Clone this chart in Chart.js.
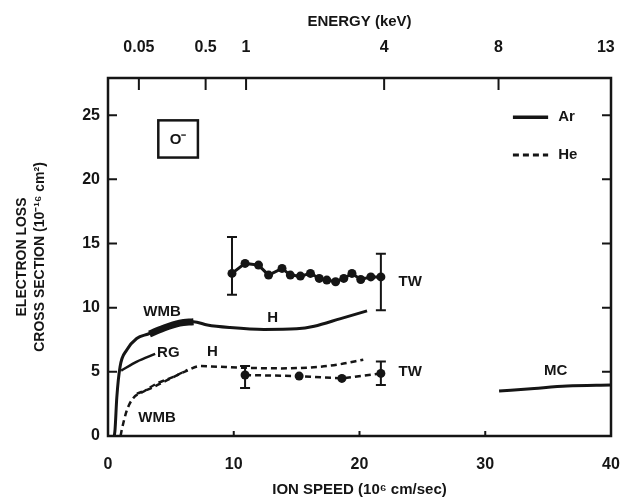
<!DOCTYPE html>
<html>
<head>
<meta charset="utf-8">
<script src="https://cdn.jsdelivr.net/npm/chart.js@4/dist/chart.umd.min.js"></script>
<style>
  html, body { margin: 0; padding: 0; background: #fff; }
  #wrap { width: 624px; height: 503px; }
</style>
</head>
<body>
<div id="wrap"><canvas id="lossChart" width="624" height="503"></canvas></div>
<script>
// ion speed in 10^6 cm/sec, cross section in 10^-16 cm^2
const arH_x = [0.5, 0.56, 0.7, 0.96, 1.49, 2.28, 3.2, 4.4, 5.7, 6.8, 7.9, 9.7, 12.4, 15.0, 16.4, 18.5, 20.6];
const arH_y = [0.0, 0.5, 3.0, 5.4, 6.7, 7.6, 7.95, 8.4, 8.8, 8.9, 8.65, 8.45, 8.3, 8.35, 8.55, 9.15, 9.75];

const arWMB_x = [3.3, 4.4, 5.7, 6.8];
const arWMB_y = [7.95, 8.4, 8.8, 8.9];

const rg_x = [1.05, 2.3, 3.75];
const rg_y = [5.1, 5.8, 6.4];

const heWMB_x = [1.0, 1.1, 1.5, 2.0, 2.8, 3.9, 5.2, 6.3];
const heWMB_y = [0.0, 0.5, 2.0, 2.95, 3.45, 4.1, 4.6, 5.15];

const heH_x = [2.3, 3.35, 4.7, 6.3, 7.3, 8.7, 10.5, 13.7, 16.9, 18.5, 20.3];
const heH_y = [3.3, 3.7, 4.35, 5.1, 5.45, 5.4, 5.33, 5.27, 5.4, 5.6, 5.95];

const mc_x = [31.1, 33.9, 36.5, 40.0];
const mc_y = [3.5, 3.71, 3.89, 3.97];

const arTW_x = [9.86, 10.9, 11.97, 12.77, 13.84, 14.5, 15.3, 16.1, 16.8, 17.4, 18.1, 18.75, 19.4, 20.1, 20.9, 21.7];
const arTW_y = [12.67, 13.45, 13.32, 12.54, 13.06, 12.54, 12.46, 12.67, 12.28, 12.15, 12.02, 12.28, 12.67, 12.2, 12.4, 12.4];
const arErr_x = [9.86, 21.7];
const arErr_lo = [11.0, 9.8];
const arErr_hi = [15.5, 14.2];

const heTW_x = [10.9, 15.2, 18.6, 21.7];
const heTW_y = [4.75, 4.67, 4.49, 4.88];
const heErr_x = [10.9, 21.7];
const heErr_lo = [3.75, 3.97];
const heErr_hi = [5.45, 5.8];

// top axis: energy of O- ions
const energyLabels = ['0.05', '0.5', '1', '4', '8', '13'];
const speedForKeV = e => 10.98 * Math.sqrt(e);

const INK = '#151515';
const FONT = '"Liberation Sans", Arial, sans-serif';

function pts(xs, ys) {
  return xs.map((x, i) => ({ x: x, y: ys[i] }));
}

function curve(label, xs, ys, width, dash) {
  return {
    label: label,
    data: pts(xs, ys),
    showLine: true,
    borderColor: INK,
    borderWidth: width,
    borderDash: dash || [],
    pointRadius: 0,
    cubicInterpolationMode: 'monotone',
    fill: false
  };
}

// keep the plot box where the scan has it, labels may overhang
function noPad(s) {
  s.paddingLeft = 0;
  s.paddingRight = 0;
}

const framePlugin = {
  id: 'frame',
  afterDatasetsDraw(chart) {
    const ctx = chart.ctx;
    const a = chart.chartArea;
    const x = chart.scales.x, y = chart.scales.y;
    ctx.save();
    ctx.strokeStyle = INK;
    ctx.fillStyle = INK;

    // error bars
    ctx.lineWidth = 2;
    const bars = (xs, lo, hi) => xs.forEach((v, i) => {
      const px = x.getPixelForValue(v);
      const p1 = y.getPixelForValue(lo[i]), p2 = y.getPixelForValue(hi[i]);
      ctx.beginPath();
      ctx.moveTo(px, p1); ctx.lineTo(px, p2);
      ctx.moveTo(px - 5, p1); ctx.lineTo(px + 5, p1);
      ctx.moveTo(px - 5, p2); ctx.lineTo(px + 5, p2);
      ctx.stroke();
    });
    bars(arErr_x, arErr_lo, arErr_hi);
    bars(heErr_x, heErr_lo, heErr_hi);

    // frame
    ctx.lineWidth = 2.5;
    ctx.strokeRect(a.left, a.top, a.right - a.left, a.bottom - a.top);

    // inward ticks
    ctx.lineWidth = 2;
    ctx.beginPath();
    [5, 10, 15, 20, 25].forEach(v => {
      const py = y.getPixelForValue(v);
      ctx.moveTo(a.left, py); ctx.lineTo(a.left + 9, py);
      ctx.moveTo(a.right, py); ctx.lineTo(a.right - 9, py);
    });
    [10, 20, 30].forEach(v => {
      const px = x.getPixelForValue(v);
      ctx.moveTo(px, a.bottom); ctx.lineTo(px, a.bottom - 5);
    });
    energyLabels.slice(0, 5).forEach(e => {
      const px = x.getPixelForValue(speedForKeV(parseFloat(e)));
      ctx.moveTo(px, a.top); ctx.lineTo(px, a.top + 12);
    });
    ctx.stroke();

    // annotations
    ctx.font = 'bold 15px ' + FONT;
    ctx.textBaseline = 'middle';
    ctx.textAlign = 'center';
    const t = (s, vx, vy) => ctx.fillText(s, x.getPixelForValue(vx), y.getPixelForValue(vy));
    t('WMB', 4.3, 9.65);
    t('H', 13.1, 9.2);
    t('RG', 4.8, 6.45);
    t('H', 8.3, 6.55);
    t('WMB', 3.9, 1.4);
    t('MC', 35.6, 5.05);
    ctx.textAlign = 'left';
    t('TW', 23.1, 12.0);
    t('TW', 23.1, 5.0);

    // ion label box
    const bx1 = x.getPixelForValue(4.0), bx2 = x.getPixelForValue(7.15);
    const by1 = y.getPixelForValue(24.6), by2 = y.getPixelForValue(21.7);
    ctx.lineWidth = 2.5;
    ctx.strokeRect(bx1, by1, bx2 - bx1, by2 - by1);
    ctx.textAlign = 'center';
    ctx.font = 'bold 15px ' + FONT;
    ctx.fillText('O\u207B', (bx1 + bx2) / 2, (by1 + by2) / 2 + 1);

    // legend
    const lx1 = x.getPixelForValue(32.2), lx2 = x.getPixelForValue(35.0);
    const ly1 = y.getPixelForValue(24.85), ly2 = y.getPixelForValue(21.9);
    ctx.lineWidth = 3.5;
    ctx.beginPath(); ctx.moveTo(lx1, ly1); ctx.lineTo(lx2, ly1); ctx.stroke();
    ctx.lineWidth = 3;
    ctx.setLineDash([6, 4]);
    ctx.beginPath(); ctx.moveTo(lx1, ly2); ctx.lineTo(lx2, ly2); ctx.stroke();
    ctx.setLineDash([]);
    ctx.textAlign = 'left';
    ctx.fillText('Ar', lx2 + 10, ly1);
    ctx.fillText('He', lx2 + 10, ly2);
    ctx.restore();
  }
};

new Chart(document.getElementById('lossChart'), {
  type: 'scatter',
  data: {
    datasets: [
      curve('Ar H', arH_x, arH_y, 3),
      curve('Ar WMB', arWMB_x, arWMB_y, 7),
      curve('RG', rg_x, rg_y, 2.5),
      curve('He WMB', heWMB_x, heWMB_y, 2.5, [6, 4]),
      curve('He H', heH_x, heH_y, 2.5, [6, 4]),
      curve('MC', mc_x, mc_y, 3),
      {
        label: 'Ar TW',
        data: pts(arTW_x, arTW_y),
        showLine: true,
        borderColor: INK,
        borderWidth: 3,
        backgroundColor: INK,
        pointRadius: 4.5,
        pointBorderWidth: 0
      },
      {
        label: 'He TW',
        data: pts(heTW_x, heTW_y),
        showLine: true,
        borderColor: INK,
        borderWidth: 2.5,
        borderDash: [6, 4],
        backgroundColor: INK,
        pointRadius: 4.5,
        pointBorderWidth: 0
      }
    ]
  },
  options: {
    responsive: false,
    animation: false,
    layout: { padding: { left: 0, right: 13, top: 0, bottom: 0 } },
    plugins: { legend: { display: false }, tooltip: { enabled: false } },
    scales: {
      x: {
        type: 'linear',
        position: 'bottom',
        min: 0, max: 40,
        grid: { display: false, drawTicks: false },
        border: { display: false },
        ticks: { stepSize: 10, color: INK, padding: 19, maxRotation: 0, font: { family: FONT, size: 16, weight: 'bold' } },
        title: { display: true, text: 'ION SPEED (10\u2076 cm/sec)', color: INK, padding: { top: 0, bottom: 4 }, font: { family: FONT, size: 15, weight: 'bold' } },
        afterFit: s => { s.height = 67; noPad(s); }
      },
      xTop: {
        type: 'linear',
        position: 'top',
        min: 0, max: 40,
        grid: { display: false, drawTicks: false },
        border: { display: false },
        afterBuildTicks: s => { s.ticks = energyLabels.map(e => ({ value: speedForKeV(parseFloat(e)) })); },
        ticks: { autoSkip: false, maxRotation: 0, color: INK, padding: 21, font: { family: FONT, size: 16, weight: 'bold' },
                 callback: (v, i) => energyLabels[i] },
        title: { display: true, text: 'ENERGY (keV)', color: INK, padding: { top: 13, bottom: 0 }, font: { family: FONT, size: 15, weight: 'bold' } },
        afterFit: s => { s.height = 78; noPad(s); }
      },
      y: {
        type: 'linear',
        min: 0, max: 27.9,
        grid: { display: false, drawTicks: false },
        border: { display: false },
        ticks: { stepSize: 5, includeBounds: false, color: INK, padding: 8, font: { family: FONT, size: 16, weight: 'bold' } },
        title: { display: true, text: ['ELECTRON LOSS', 'CROSS SECTION (10\u207B\u00B9\u2076 cm\u00B2)'], color: INK,
                 padding: { top: 13, bottom: 0 }, font: { family: FONT, size: 14, weight: 'bold', lineHeight: 1.3 } },
        afterFit: s => { s.width = 108; }
      }
    }
  },
  plugins: [framePlugin]
});
</script>
</body>
</html>
